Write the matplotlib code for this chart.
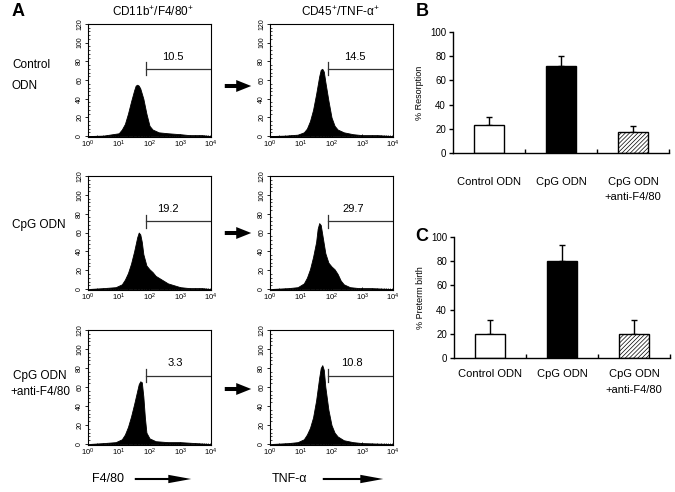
import numpy as np
import matplotlib
matplotlib.use("Agg")
import matplotlib.pyplot as plt
from matplotlib.ticker import MultipleLocator, LogLocator, NullFormatter

plt.rcParams['font.family'] = ['Liberation Sans', 'DejaVu Sans']
plt.rcParams['mathtext.fontset'] = 'custom'
plt.rcParams['mathtext.rm'] = 'Liberation Sans'
plt.rcParams['mathtext.it'] = 'Liberation Sans:italic'
plt.rcParams['mathtext.bf'] = 'Liberation Sans:bold'

# ---- panel A: flow histograms (log10 fluorescence, counts) ----
ctrl_f480_x = [0, 0.5, 0.8, 1.0, 1.1, 1.2, 1.3, 1.4, 1.5, 1.55, 1.6, 1.65, 1.7, 1.8, 1.9, 2.0, 2.1, 2.3, 2.6, 3.0, 3.3, 3.7, 4.0]
ctrl_f480_y = [0, 0.5, 2, 3, 7, 13, 24, 37, 49, 54, 55, 54, 51, 40, 24, 11, 7, 4, 3, 2, 1, 1, 0]
ctrl_tnf_x = [0, 0.5, 0.9, 1.1, 1.2, 1.3, 1.4, 1.5, 1.6, 1.65, 1.7, 1.75, 1.8, 1.9, 2.0, 2.1, 2.2, 2.4, 2.7, 3.0, 3.5, 4.0]
ctrl_tnf_y = [0, 0.5, 1.5, 4, 8, 16, 28, 45, 64, 71, 72, 69, 58, 38, 20, 11, 7, 4, 2, 1, 1, 0]
cpg_f480_x = [0, 0.5, 0.9, 1.1, 1.2, 1.3, 1.4, 1.5, 1.6, 1.65, 1.7, 1.75, 1.8, 1.9, 2.0, 2.1, 2.2, 2.4, 2.6, 2.8, 3.0, 3.3, 3.7, 4.0]
cpg_f480_y = [0, 1, 2, 5, 10, 17, 27, 40, 55, 60, 58, 50, 37, 25, 21, 18, 14, 10, 6, 4, 2, 1, 1, 0]
cpg_tnf_x = [0, 0.6, 0.9, 1.1, 1.2, 1.3, 1.4, 1.5, 1.55, 1.6, 1.65, 1.7, 1.8, 1.9, 2.0, 2.1, 2.2, 2.3, 2.4, 2.6, 2.9, 3.3, 4.0]
cpg_tnf_y = [0, 1, 2, 6, 12, 21, 34, 50, 64, 70, 68, 58, 38, 28, 24, 21, 16, 9, 5, 2, 1, 1, 0]
anti_f480_x = [0, 0.5, 0.9, 1.1, 1.2, 1.3, 1.4, 1.5, 1.6, 1.65, 1.7, 1.75, 1.8, 1.85, 1.9, 2.0, 2.2, 2.6, 3.0, 3.5, 4.0]
anti_f480_y = [0, 1, 2, 5, 10, 18, 29, 42, 56, 63, 66, 65, 50, 28, 12, 6, 3, 2, 2, 1, 0]
anti_tnf_x = [0, 0.6, 0.9, 1.1, 1.2, 1.3, 1.4, 1.5, 1.6, 1.65, 1.7, 1.75, 1.8, 1.9, 2.0, 2.1, 2.2, 2.4, 2.7, 3.0, 4.0]
anti_tnf_y = [0, 1, 2, 5, 10, 17, 28, 46, 70, 80, 83, 78, 60, 36, 20, 12, 8, 4, 2, 1, 0]

gate_pct = ["10.5", "14.5", "19.2", "29.7", "3.3", "10.8"]

# ---- panels B, C ----
groups = ["Control ODN", "CpG ODN", "CpG ODN\n+anti-F4/80"]
resorption = [23.5, 72, 17]
resorption_err = [6.5, 8, 5.5]
preterm = [20, 80, 20]
preterm_err = [11, 13.5, 11.5]

W, H = 675, 492
fig = plt.figure(figsize=(W / 100, H / 100), dpi=100)


def px_axes(x0, y0, x1, y1):
    return fig.add_axes([x0 / W, 1 - y1 / H, (x1 - x0) / W, (y1 - y0) / H])


hists = [(ctrl_f480_x, ctrl_f480_y), (ctrl_tnf_x, ctrl_tnf_y),
         (cpg_f480_x, cpg_f480_y), (cpg_tnf_x, cpg_tnf_y),
         (anti_f480_x, anti_f480_y), (anti_tnf_x, anti_tnf_y)]
rows = [(24, 137), (176, 290), (330, 445)]
cols = [(88, 211), (270, 393)]
label_pos = [2.77, 2.75, 2.6, 2.7, 2.83, 2.66]

for i, (hx, hy) in enumerate(hists):
    r, c = divmod(i, 2)
    ax = px_axes(cols[c][0], rows[r][0], cols[c][1], rows[r][1])
    ax.fill_between(10 ** np.array(hx), hy, 0, color='black', lw=0.6, edgecolor='black')
    ax.set_xscale('log')
    ax.set_xlim(1, 1e4)
    ax.set_ylim(-1, 120)
    ax.set_yticks(range(0, 121, 20))
    ax.yaxis.set_minor_locator(MultipleLocator(4))
    ax.xaxis.set_major_locator(LogLocator(base=10, numticks=10))
    ax.xaxis.set_minor_locator(LogLocator(base=10, subs=np.arange(2, 10), numticks=10))
    ax.xaxis.set_minor_formatter(NullFormatter())
    ax.tick_params(axis='y', labelrotation=90, labelsize=5, length=2.5, width=0.6, pad=1)
    ax.tick_params(axis='x', labelsize=5.5, length=2.5, width=0.6, pad=1.5, direction='in')
    ax.tick_params(which='minor', length=1.5, width=0.5, direction='in')
    for lab in ax.get_yticklabels():
        lab.set_va('center')
    for s in ax.spines.values():
        s.set_linewidth(0.8)
    # gate marker
    g0 = 10 ** 1.9
    gy = 72
    ax.plot([g0, 1e4], [gy, gy], color='#333333', lw=0.9)
    ax.plot([g0, g0], [gy - 7, gy + 7], color='#333333', lw=0.9)
    ax.text(10 ** label_pos[i], 85, gate_pct[i], ha='center', va='center', fontsize=8)

# column titles and row labels
fig.text(153 / W, 1 - 12 / H, r'CD11b$^{+}$/F4/80$^{+}$', ha='center', va='center', fontsize=8.5)
fig.text(340 / W, 1 - 12 / H, r'CD45$^{+}$/TNF-α$^{+}$', ha='center', va='center', fontsize=8.5)
fig.text(12 / W, 1 - 65 / H, 'Control', ha='left', va='center', fontsize=8.5)
fig.text(12 / W, 1 - 86 / H, 'ODN', ha='left', va='center', fontsize=8.5)
fig.text(12 / W, 1 - 225 / H, 'CpG ODN', ha='left', va='center', fontsize=8.5)
fig.text(40 / W, 1 - 376 / H, 'CpG ODN', ha='center', va='center', fontsize=8.5)
fig.text(40 / W, 1 - 392 / H, '+anti-F4/80', ha='center', va='center', fontsize=8.5)

fig.text(12 / W, 1 - 12 / H, 'A', fontsize=13, fontweight='bold', va='center', ha='left')
fig.text(416 / W, 1 - 12 / H, 'B', fontsize=13, fontweight='bold', va='center', ha='left')
fig.text(415 / W, 1 - 236 / H, 'C', fontsize=13, fontweight='bold', va='center', ha='left')

# arrows between columns
for yy in [86, 233, 389]:
    fig.add_artist(matplotlib.patches.FancyArrowPatch(
        (222, H - yy), (254, H - yy), transform=None,
        arrowstyle='simple,head_length=1.08,head_width=0.86,tail_width=0.29',
        mutation_scale=10, color='black', lw=0))

# axis name arrows
fig.text(108 / W, 1 - 479 / H, 'F4/80', ha='center', va='center', fontsize=9)
fig.text(289 / W, 1 - 479 / H, 'TNF-α', ha='center', va='center', fontsize=9)
for x0, x1 in [(132, 194), (320, 386)]:
    fig.add_artist(matplotlib.patches.FancyArrowPatch(
        (x0, H - 479), (x1, H - 479), transform=None,
        arrowstyle='simple,head_length=1.65,head_width=0.6,tail_width=0.15',
        mutation_scale=10, color='black', lw=0))


def bar_panel(ax, vals, errs, ylabel, pad):
    xs = np.arange(len(vals)) + 0.5
    colors = ['white', 'black', 'white']
    hatches = [None, None, '////////']
    for x, v, col, h in zip(xs, vals, colors, hatches):
        ax.bar(x, v, width=0.42, color=col, edgecolor='black', lw=1, hatch=h, zorder=2)
    ax.errorbar(xs, vals, yerr=[np.zeros(len(errs)), errs], fmt='none', ecolor='black',
                elinewidth=1, capsize=2, capthick=1, zorder=1)
    ax.set_xlim(0, 3)
    ax.set_ylim(0, 100)
    ax.set_yticks(range(0, 101, 20))
    ax.set_xticks(xs)
    ax.set_xticklabels(groups, fontsize=8, linespacing=1.7)
    ax.set_xticks([1, 2, 3], minor=True)
    ax.tick_params(axis='x', which='major', length=0, pad=pad)
    ax.tick_params(axis='x', which='minor', length=3, direction='in', width=1)
    ax.tick_params(axis='y', labelsize=7, length=3, width=1, pad=2)
    ax.spines['top'].set_visible(False)
    ax.spines['right'].set_visible(False)
    ax.spines['left'].set_linewidth(1)
    ax.spines['bottom'].set_linewidth(1)
    ax.set_ylabel(ylabel, fontsize=6.5, labelpad=4)


plt.rcParams['hatch.linewidth'] = 0.5
axB = px_axes(453, 32, 669, 153)
bar_panel(axB, resorption, resorption_err, '% Resorption', 17)
axC = px_axes(454, 237, 670, 358)
bar_panel(axC, preterm, preterm_err, '% Preterm birth', 8)

fig.savefig('out.png', dpi=100)
